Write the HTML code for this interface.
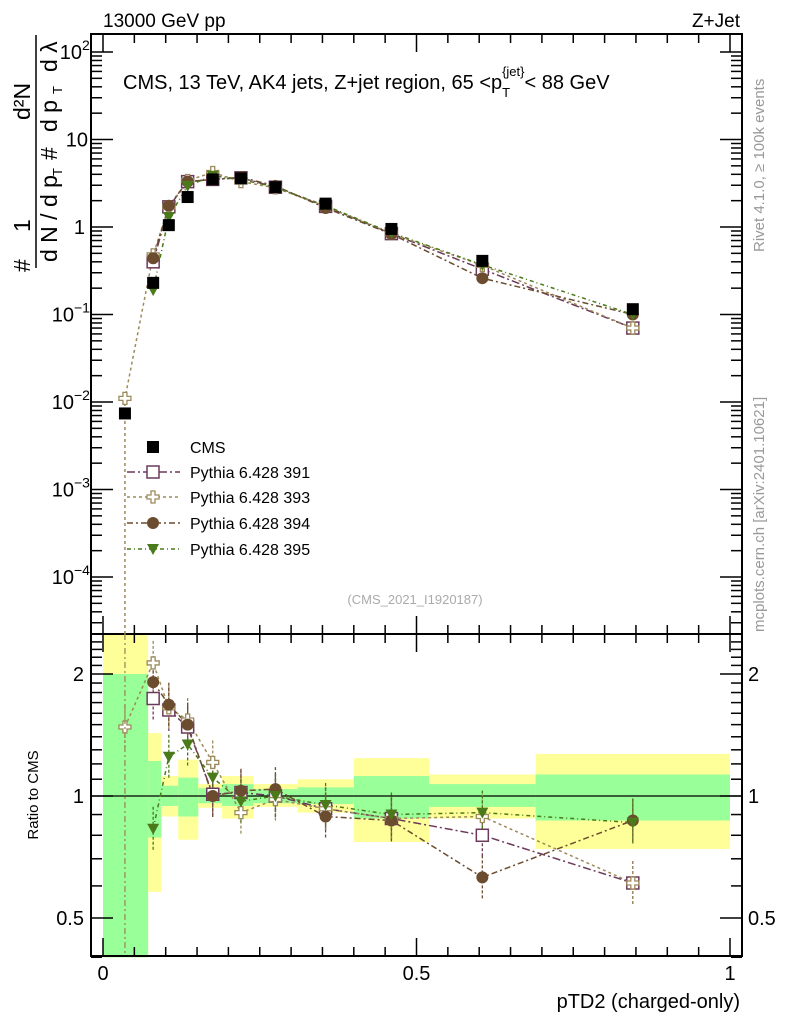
<!DOCTYPE html>
<html><head><meta charset="utf-8"><style>
body{margin:0;background:#fff;}
svg{display:block;font-family:"Liberation Sans",sans-serif;}
</style></head><body>
<svg id="c" width="786" height="1024" viewBox="0 0 786 1024" xmlns="http://www.w3.org/2000/svg">
<text x="103" y="27" font-size="19">13000 GeV pp</text>
<text x="740" y="27" font-size="19" text-anchor="end">Z+Jet</text>
<text x="123" y="89" font-size="20">CMS, 13 TeV, AK4 jets, Z+jet region, 65 &lt;p<tspan font-size="13" dy="8">T</tspan><tspan font-size="13" dy="-21" dx="-8">{jet}</tspan><tspan dy="13">&lt; 88 GeV</tspan></text>
<text x="415" y="604" font-size="13" fill="#aaa" text-anchor="middle">(CMS_2021_I1920187)</text>
<text transform="translate(764,252) rotate(-90)" font-size="15" fill="#999">Rivet 4.1.0, ≥ 100k events</text>
<text transform="translate(764,632) rotate(-90)" font-size="15" fill="#999">mcplots.cern.ch [arXiv:2401.10621]</text>
<g font-size="23">
<text transform="translate(30,272) rotate(-90)">#</text>
<text transform="translate(30,232) rotate(-90)">1</text>
<line x1="36" y1="268" x2="36" y2="35" stroke="#000" stroke-width="1.5"/>
<text transform="translate(57,262) rotate(-90)">d N / d p</text>
<text transform="translate(62,176) rotate(-90)" font-size="13">T</text>
<text transform="translate(57,160) rotate(-90)">#</text>
<text transform="translate(30,120) rotate(-90)">d²N</text>
<text transform="translate(57,132) rotate(-90)">d p</text>
<text transform="translate(62,94) rotate(-90)" font-size="13">T</text>
<text transform="translate(57,72) rotate(-90)">d λ</text>
</g>
<text transform="translate(38,795) rotate(-90)" font-size="15" text-anchor="middle">Ratio to CMS</text>
<text x="740" y="1008" font-size="20" text-anchor="end">pTD2 (charged-only)</text>
<g id="g"></g>
</svg>
<script>
const xCenters=[0.035,0.08,0.105,0.135,0.175,0.22,0.275,0.355,0.46,0.605,0.845];
const binEdges=[0,0.072,0.093,0.12,0.152,0.19,0.24,0.31,0.40,0.52,0.69,1.0];
const cmsVals=[0.0074,0.23,1.05,2.2,3.5,3.6,2.85,1.85,0.95,0.41,0.115];
const p391=[null,0.40,1.7,3.3,3.5,3.65,2.85,1.72,0.84,0.33,0.07];
const p393=[0.011,0.48,1.7,3.4,4.2,3.3,2.8,1.72,0.84,0.365,0.07];
const p394=[null,0.44,1.75,3.3,3.5,3.7,2.95,1.65,0.83,0.26,0.10];
const p395=[null,0.19,1.3,2.95,3.85,3.5,2.85,1.75,0.86,0.37,0.10];
const r391=[null,1.74,1.63,1.48,1.01,1.02,1.0,0.93,0.88,0.80,0.61];
const r393=[1.48,2.13,1.65,1.54,1.21,0.91,0.98,0.93,0.88,0.89,0.61];
const r394=[null,1.91,1.68,1.50,1.0,1.03,1.04,0.89,0.87,0.63,0.87];
const r395=[null,0.83,1.25,1.34,1.11,0.97,1.0,0.95,0.90,0.91,0.86];
const yelHi=[2.6,1.43,1.12,1.23,1.07,1.12,1.07,1.10,1.24,1.13,1.27];
const yelLo=[0.4,0.58,0.89,0.78,0.935,0.88,0.94,0.91,0.77,0.88,0.74];
const grnHi=[2.0,1.22,1.06,1.11,1.045,1.07,1.04,1.05,1.12,1.07,1.13];
const grnLo=[0.4,0.79,0.945,0.89,0.96,0.945,0.96,0.955,0.88,0.94,0.87];
const mainExps=[2,1,0,-1,-2,-3,-4];
const ratioTicks=[2,1,0.5];
const xTicks=[0,0.5,1];

const L=91,R=742,T=34,MB=634,RB=956;
const X=v=>103+v*627;
const Y=v=>227-Math.log10(v)*87.5;
const RY=v=>796-Math.log2(v)*122;
const g=document.getElementById('g');
const NS='http://www.w3.org/2000/svg';
function mk(tag,at,parent){const e=document.createElementNS(NS,tag);for(const k in at)e.setAttribute(k,at[k]);(parent||g).appendChild(e);return e;}

for(let i=0;i<xCenters.length;i++){
  const x0=X(binEdges[i]),x1=X(binEdges[i+1]);
  const yb=mk('rect',{x:x0,y:RY(Math.min(yelHi[i],2.5)),width:x1-x0,height:RY(Math.max(yelLo[i],0.4))-RY(Math.min(yelHi[i],2.5)),fill:'#ffff99'});
  
  
  const gb=mk('rect',{x:x0,y:RY(Math.min(grnHi[i],2.5)),width:x1-x0,height:RY(Math.max(grnLo[i],0.4))-RY(Math.min(grnHi[i],2.5)),fill:'#99ff99'});
  
  
}
mk('line',{x1:L,x2:R,y1:RY(1),y2:RY(1),stroke:'#000','stroke-width':1.3});

for(const [t,b] of [[T,MB],[MB,RB]]){
  const f=mk('rect',{x:L,y:t,width:R-L,height:b-t,fill:'none',stroke:'#000','stroke-width':2});
  
  
}
for(let k=0;k<=20;k++){
  const v=k/20;
  const big=(k%10==0);
  const len=big?18:9;
  for(const [yt,yb] of [[T,MB],[MB,RB]]){
    mk('line',{x1:X(v),x2:X(v),y1:yt,y2:yt+len,stroke:'#000','stroke-width':1.5});
    mk('line',{x1:X(v),x2:X(v),y1:yb,y2:yb-len,stroke:'#000','stroke-width':1.5});
  }
}
xTicks.forEach(v=>{const t=mk('text',{x:X(v),y:980,'font-size':20,'text-anchor':'middle'});t.textContent=v;

});
for(let d=-5;d<=2;d++){
  for(let m=1;m<10;m++){
    const y=Y(m*Math.pow(10,d));if(y<T||y>MB)continue;
    const len=m==1?22:11;
    mk('line',{x1:L,x2:L+len,y1:y,y2:y,stroke:'#000','stroke-width':1.5});
    mk('line',{x1:R,x2:R-len,y1:y,y2:y,stroke:'#000','stroke-width':1.5});
  }
}
mainExps.forEach(e=>{
  const y=Y(Math.pow(10,e))+7;
  let t;
  if(e==0){t=mk('text',{x:85,y:y,'font-size':20,'text-anchor':'end'});t.textContent='1';}
  else if(e==1){t=mk('text',{x:88,y:y,'font-size':20,'text-anchor':'end'});t.textContent='10';}
  else{
    t=mk('text',{x:e>0?82:74,y:y,'font-size':20,'text-anchor':'end'});t.textContent='10';
    const s=mk('text',{x:e>0?82:74,y:y-9,'font-size':14});s.textContent=e>0?String(e):'−'+(-e);
    
    
  }
  
  
});
for(const v of [0.4,0.5,0.6,0.7,0.8,0.9,1,1.1,1.2,1.3,1.4,1.5,1.6,1.7,1.8,1.9,2,2.1,2.2,2.3,2.4]){
  const big=(v==0.5||v==1||v==2);const len=big?22:11;const y=RY(v);
  mk('line',{x1:L,x2:L+len,y1:y,y2:y,stroke:'#000','stroke-width':1.5});
  mk('line',{x1:R,x2:R-len,y1:y,y2:y,stroke:'#000','stroke-width':1.5});
}
ratioTicks.forEach(v=>{
  const t=mk('text',{x:84,y:RY(v)+7,'font-size':20,'text-anchor':'end'});t.textContent=v;
  
  
  const t2=mk('text',{x:748,y:RY(v)+7,'font-size':20});t2.textContent=v;
  
  
});

const series=[
 {main:p391,ratio:r391,c:'#6b3a5b',m:'sq',dash:'8,3,2,3',name:'Pythia 6.428 391'},
 {main:p393,ratio:r393,c:'#9c8a5a',m:'cross',dash:'3,3',name:'Pythia 6.428 393'},
 {main:p394,ratio:r394,c:'#6b4c2e',m:'circ',dash:'6,3,2,3',name:'Pythia 6.428 394'},
 {main:p395,ratio:r395,c:'#4a7a1a',m:'tri',dash:'4,3,1,3',name:'Pythia 6.428 395'}];
function marker(type,x,y,c,parent){
  if(type=='sq')return mk('rect',{x:x-6,y:y-6,width:12,height:12,fill:'#fff',stroke:c,'stroke-width':1.5},parent);
  if(type=='cmsq')return mk('rect',{x:x-6,y:y-6,width:12,height:12,fill:'#000'},parent);
  if(type=='circ')return mk('circle',{cx:x,cy:y,r:6,fill:c},parent);
  if(type=='tri')return mk('path',{d:`M${x-6},${y-5}L${x+6},${y-5}L${x},${y+6}Z`,fill:c},parent);
  return mk('path',{d:`M${x-2},${y-6}h4v4h4v4h-4v4h-4v-4h-4v-4h4z`,fill:'#fff',stroke:c,'stroke-width':1.3},parent);
}
const clipM=mk('clipPath',{id:'cm'});mk('rect',{x:L,y:T,width:R-L,height:MB-T},clipM);
const clipR=mk('clipPath',{id:'cr'});mk('rect',{x:L,y:MB,width:R-L,height:RB-MB},clipR);
const gm=mk('g',{'clip-path':'url(#cm)'});const gr=mk('g',{'clip-path':'url(#cr)'});
series.forEach(s=>{
  let pts=[],rpts=[];
  xCenters.forEach((x,i)=>{if(s.main[i]!=null)pts.push([X(x),Y(s.main[i])]);if(s.ratio[i]!=null)rpts.push([X(x),RY(s.ratio[i])]);});
  if(s===series[1]){pts.unshift([X(0.035),700]);}
  const l=mk('polyline',{points:pts.map(p=>p.join(',')).join(' '),fill:'none',stroke:s.c,'stroke-width':1.5,'stroke-dasharray':s.dash},gm);
  
  
  const rl=mk('polyline',{points:rpts.map(p=>p.join(',')).join(' '),fill:'none',stroke:s.c,'stroke-width':1.5,'stroke-dasharray':s.dash},gr);
  
  
  rpts.forEach(p=>{mk('line',{x1:p[0],x2:p[0],y1:p[1]-22,y2:p[1]+22,stroke:s.c,'stroke-width':1.3,'stroke-dasharray':'3,2'},gr);});
});
series.forEach(s=>{
  xCenters.forEach((x,i)=>{
    if(s.main[i]!=null){const m=marker(s.m,X(x),Y(s.main[i]),s.c,gm);
      
      }
    if(s.ratio[i]!=null){const m=marker(s.m,X(x),RY(s.ratio[i]),s.c,gr);
      
      }
  });
});
mk('line',{x1:X(0.035),x2:X(0.035),y1:MB,y2:RB,stroke:'#9c8a5a','stroke-width':1.3,'stroke-dasharray':'6,3,2,3'},gr);
xCenters.forEach((x,i)=>{const m=marker('cmsq',X(x),Y(cmsVals[i]),'#000',gm);
  
  });
const legY=[447,472,497,523,549];
const lm=marker('cmsq',153,legY[0],'#000');


let lt=mk('text',{x:190,y:legY[0]+6,'font-size':16});lt.textContent='CMS';


series.forEach((s,i)=>{
  const y=legY[i+1];
  mk('line',{x1:127,x2:180,y1:y,y2:y,stroke:s.c,'stroke-width':1.5,'stroke-dasharray':s.dash});
  marker(s.m,153,y,s.c);
  const t=mk('text',{x:190,y:y+6,'font-size':16});t.textContent=s.name;
  
  
});
</script>
</body></html>
